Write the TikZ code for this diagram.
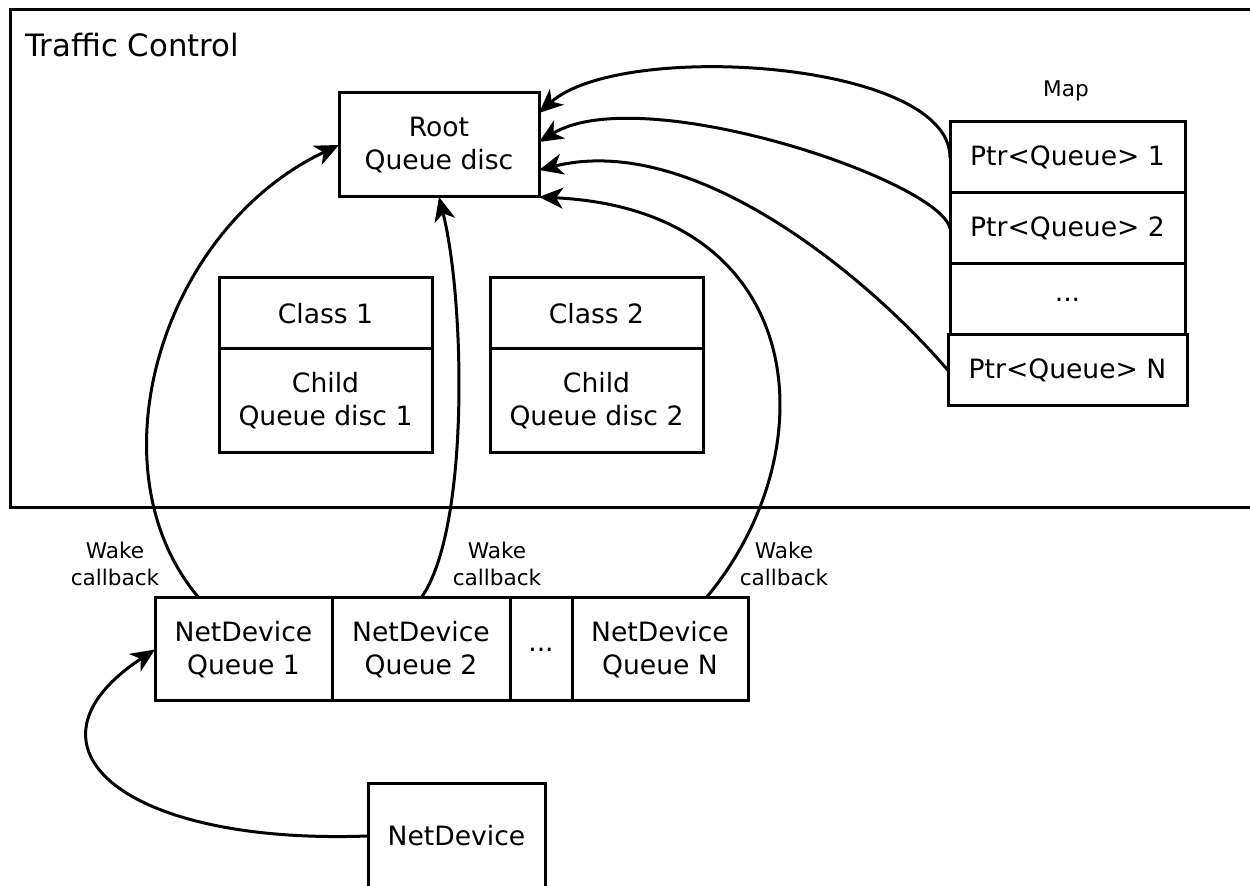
\documentclass[tikz,border=0pt]{standalone}
\usepackage{fontspec}
\setmainfont{DejaVu Sans}
\usetikzlibrary{arrows.meta,positioning}
\tikzset{
  box/.style={draw,line width=1.5pt,align=center,inner sep=0pt,outer sep=0pt,
    font=\fontsize{13.3}{16.5}\selectfont},
  rootbox/.style={box,minimum width=100pt,minimum height=52pt},
  classbox/.style={box,minimum width=106.5pt,minimum height=35.5pt},
  childbox/.style={box,minimum width=106.5pt,minimum height=52pt},
  ptrbox/.style={box,minimum width=117.5pt,minimum height=35.5pt},
  queuebox/.style={box,minimum width=88.5pt,minimum height=51.5pt},
  note/.style={align=center,inner sep=0pt,font=\fontsize{10.8}{13.5}\selectfont},
  flow/.style={-{Stealth[length=12pt,width=10.5pt,inset=3.5pt]},line width=1.5pt}
}
\begin{document}
\begin{tikzpicture}[x=0.5pt,y=-0.5pt]
  \useasboundingbox (0,0) rectangle (1250,886);
  % traffic control frame, open to the right
  \draw[line width=1.5pt] (1260,10) -| (10,508) -- (1260,508);
  \node[anchor=base west,inner sep=0pt,font=\fontsize{15.4}{18}\selectfont] (title) at (25,57) {Traffic Control};
  \node[rootbox,anchor=north west] (root) at (339,93) {Root\\Queue disc};
  \node[classbox,anchor=north west] (class1) at (219,278) {Class 1};
  \node[childbox,below=0pt of class1] (child1) {Child\\Queue disc 1};
  \node[classbox,anchor=north west] (class2) at (490,278) {Class 2};
  \node[childbox,below=0pt of class2] (child2) {Child\\Queue disc 2};
  % map of queues
  \node[note] (map) at (1066,91) {Map};
  \node[ptrbox,anchor=north west] (ptr1) at (950,122) {Ptr<Queue> 1};
  \node[ptrbox,below=0pt of ptr1] (ptr2) {Ptr<Queue> 2};
  \node[ptrbox,below=0pt of ptr2] (ptrdots) {...};
  \node[ptrbox,minimum width=119.5pt,below=0pt of ptrdots] (ptrN) {Ptr<Queue> N};
  % device queues
  \node[queuebox,anchor=north west] (ndq1) at (155,598) {NetDevice\\Queue 1};
  \node[queuebox,minimum width=89pt,right=0pt of ndq1] (ndq2) {NetDevice\\Queue 2};
  \node[queuebox,minimum width=31pt,right=0pt of ndq2] (nddots) {...};
  \node[queuebox,minimum width=88pt,right=0pt of nddots] (ndqN) {NetDevice\\Queue N};
  \node[note] (wake1) at (115,564) {Wake\\callback};
  \node[note] (wake2) at (497,564) {Wake\\callback};
  \node[note] (wakeN) at (784,564) {Wake\\callback};
  \node[box,draw=none,minimum width=88.5pt,minimum height=52pt] (netdev) at (456.5,836) {NetDevice};
  \draw[line width=1.5pt] (netdev.south west) -- (netdev.north west) -- (netdev.north east) -- (netdev.south east);
  % connectors
  \draw[flow] ([xshift=22pt]ndq1.north west) .. controls (90,470) and (160,230) .. (root.west);
  \draw[flow] (ndq2.north) .. controls (470,530) and (465,300) .. (root.south);
  \draw[flow] ([xshift=23pt]ndqN.north) .. controls (830,450) and (810,210) .. (root.south east);
  \draw[flow] (ptr1.west) .. controls (950,60) and (620,40) .. ([yshift=16pt]root.east);
  \draw[flow] (ptr2.west) .. controls (940,180) and (640,80) .. ([yshift=1.5pt]root.east);
  \draw[flow] (ptrN.west) .. controls (880,290) and (700,130) .. ([yshift=-12.5pt]root.east);
  \draw[flow] (netdev.west) .. controls (120,845) and (10,745) .. (ndq1.west);
\end{tikzpicture}
\end{document}
